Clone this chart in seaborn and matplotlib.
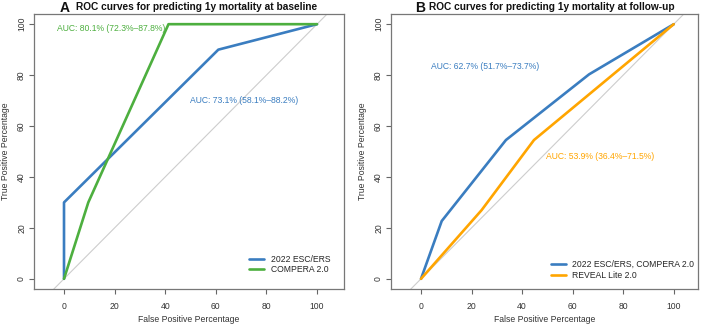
import matplotlib
matplotlib.use("Agg")
import matplotlib.pyplot as plt
import seaborn as sns
import pandas as pd

# ---- data ----
a_esc_fpr = [0, 0, 61, 100]
a_esc_tpr = [0, 30, 90, 100]
a_comp_fpr = [0, 9.6, 41.3, 100]
a_comp_tpr = [0, 30, 100, 100]
b_esc_fpr = [0, 8.2, 33.6, 66.5, 100]
b_esc_tpr = [0, 22.7, 54.5, 80.3, 100]
b_rev_fpr = [0, 24, 44.7, 100]
b_rev_tpr = [0, 27, 54.5, 100]

a_labels = ["2022 ESC/ERS", "COMPERA 2.0"]
b_labels = ["2022 ESC/ERS, COMPERA 2.0", "REVEAL Lite 2.0"]
a_auc = ["AUC: 73.1% (58.1%\u201388.2%)", "AUC: 80.1% (72.3%\u201387.8%)"]
b_auc = ["AUC: 62.7% (51.7%\u201373.7%)", "AUC: 53.9% (36.4%\u201371.5%)"]
panel_letters = ["A", "B"]
titles = ["ROC curves for predicting 1y mortality at baseline",
          "ROC curves for predicting 1y mortality at follow-up"]
ticks = [0, 20, 40, 60, 80, 100]

BLUE = "#3A7DC0"
GREEN = "#4DAF3F"
ORANGE = "#FFA500"
FS = 6.2
LW = 1.9

sns.set_theme(style="white")
plt.rcParams["font.family"] = ["Liberation Sans", "DejaVu Sans"]

fig = plt.figure(figsize=(7.02, 3.26), dpi=100)
W, H = 702, 326

def make_ax(l, r, t, b):
    return fig.add_axes([l / W, 1 - b / H, (r - l) / W, (b - t) / H])

axA = make_ax(34, 344, 14, 289)
axB = make_ax(391, 698, 14, 289)

def df(x, y, name):
    return pd.DataFrame({"fpr": x, "tpr": y, "model": name})

def style(ax, xlim):
    ax.plot([-50, 150], [-50, 150], color="#CDCDCD", lw=0.8, zorder=1)
    ax.set_xlim(*xlim)
    ax.set_ylim(-4, 104)
    ax.set_xticks(ticks)
    ax.set_yticks(ticks)
    ax.set_xticklabels([str(t) for t in ticks], fontsize=FS, color="#333333")
    ax.set_yticklabels([str(t) for t in ticks], fontsize=FS, color="#333333",
                       rotation=90, va="center")
    ax.tick_params(axis="both", direction="out", length=3.5, width=0.8,
                   color="#666666", bottom=True, left=True)
    ax.tick_params(axis="x", pad=5.9)
    ax.tick_params(axis="y", pad=2.2)
    for s in ax.spines.values():
        s.set_color("#777777")
        s.set_linewidth(0.9)
    ax.set_xlabel("False Positive Percentage", fontsize=FS, color="#333333", labelpad=3)
    ax.set_ylabel("True Positive Percentage", fontsize=FS, color="#333333", labelpad=5)

def legend(ax, x0, y0):
    ax.legend(loc="lower left", bbox_to_anchor=(x0, y0), frameon=False,
              fontsize=FS, handlelength=1.7, handletextpad=0.8,
              labelspacing=0.2, borderpad=0, borderaxespad=0)

# Panel A
dA = pd.concat([df(a_esc_fpr, a_esc_tpr, a_labels[0]),
                df(a_comp_fpr, a_comp_tpr, a_labels[1])], ignore_index=True)
sns.lineplot(data=dA, x="fpr", y="tpr", hue="model", estimator=None,
             sort=False, palette=[BLUE, GREEN], lw=LW, ax=axA, zorder=3)
style(axA, (-11.86, 110.67))
axA.text(71.0, 70.2, a_auc[0], color=BLUE, fontsize=FS, ha="center", va="center")
axA.text(18.6, 98.4, a_auc[1], color=GREEN, fontsize=FS, ha="center", va="center")
legend(axA, 0.6935, 0.053)

# Panel B
dB = pd.concat([df(b_esc_fpr, b_esc_tpr, b_labels[0]),
                df(b_rev_fpr, b_rev_tpr, b_labels[1])], ignore_index=True)
sns.lineplot(data=dB, x="fpr", y="tpr", hue="model", estimator=None,
             sort=False, palette=[BLUE, ORANGE], lw=LW, ax=axB, zorder=3)
style(axB, (-11.87, 109.6))
axB.text(25.3, 83.3, b_auc[0], color=BLUE, fontsize=FS, ha="center", va="center")
axB.text(71.0, 48.2, b_auc[1], color=ORANGE, fontsize=FS, ha="center", va="center")
legend(axB, 0.521, 0.033)

# Titles
for x_letter, x_title, letter, title in [(60, 76, panel_letters[0], titles[0]),
                                         (415, 429, panel_letters[1], titles[1])]:
    fig.text(x_letter / W, 1 - 7.5 / H, letter, fontsize=10, fontweight="bold",
             ha="left", va="center", color="#111111")
    fig.text(x_title / W, 1 - 7.5 / H, title, fontsize=7.3, fontweight="bold",
             ha="left", va="center", color="#111111")

fig.savefig("out.png", dpi=100)
